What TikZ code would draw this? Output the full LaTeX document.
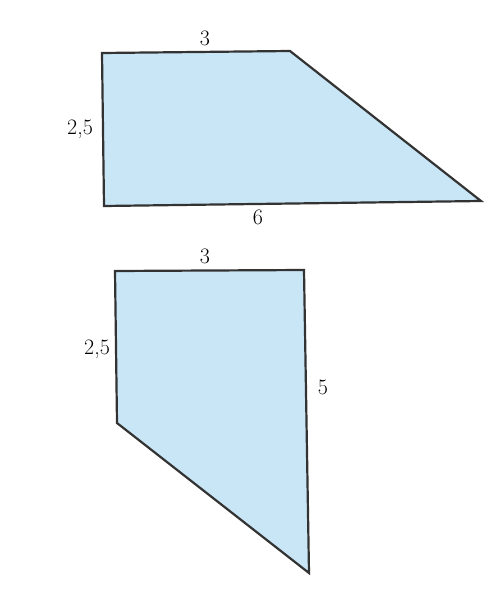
\documentclass[tikz,border=0pt]{standalone}
\begin{document}
\begin{tikzpicture}[x=1pt,y=-1pt,
  areashape/.style={draw=black!80,line width=2.2pt,fill=fillblue,line join=miter},
  lbl/.style={font=\fontsize{22}{26}\selectfont,inner sep=0pt}]
\definecolor{fillblue}{RGB}{200,230,245}
\useasboundingbox (0,0) rectangle (497,589);
% top trapezoid
\coordinate (a1) at (102,53);
\coordinate (a2) at (290,51);
\coordinate (a3) at (481,201);
\coordinate (a4) at (104,206);
\draw[areashape] (a1) -- (a2) -- (a3) -- (a4) -- cycle;
\node[lbl] (t3) at (205,38) {3};
\node[lbl] (t25) at (80,129) {2,5};
\node[lbl] (t6) at (258,217) {6};
% bottom trapezoid
\coordinate (b1) at (115,271);
\coordinate (b2) at (304,270);
\coordinate (b3) at (309,573);
\coordinate (b4) at (117,423);
\draw[areashape] (b1) -- (b2) -- (b3) -- (b4) -- cycle;
\node[lbl] (u3) at (205,256) {3};
\node[lbl] (u25) at (97,349) {2,5};
\node[lbl] (u5) at (323,387) {5};
\end{tikzpicture}
\end{document}
